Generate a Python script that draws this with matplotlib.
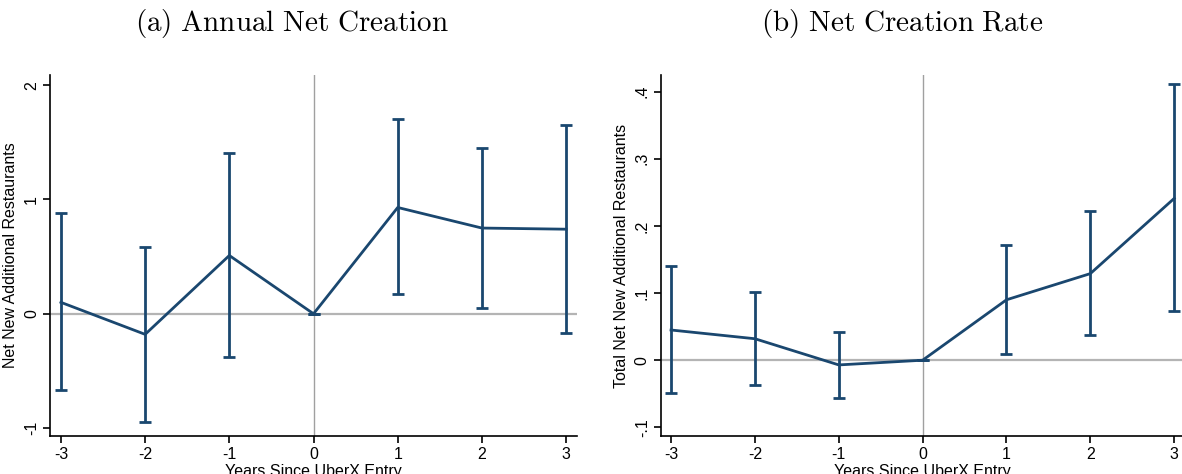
import numpy as np
import matplotlib
matplotlib.use("Agg")
import matplotlib.pyplot as plt

plt.rcParams['font.family'] = ['Liberation Sans', 'DejaVu Sans']
plt.rcParams['mathtext.fontset'] = 'cm'

years = [-3, -2, -1, 0, 1, 2, 3]

# (a) annual net creation
net_coef = [0.10, -0.18, 0.51, 0.0, 0.93, 0.75, 0.74]
net_hi = [0.88, 0.58, 1.41, 0.0, 1.70, 1.45, 1.65]
net_lo = [-0.67, -0.95, -0.38, 0.0, 0.17, 0.05, -0.17]

# (b) net creation rate
rate_coef = [0.045, 0.032, -0.007, 0.0, 0.090, 0.129, 0.241]
rate_hi = [0.141, 0.102, 0.042, 0.0, 0.171, 0.222, 0.411]
rate_lo = [-0.049, -0.037, -0.056, 0.0, 0.010, 0.037, 0.074]

net_ticks = [-1, 0, 1, 2]
net_ticklabels = ['-1', '0', '1', '2']
rate_ticks = [-0.1, 0.0, 0.1, 0.2, 0.3, 0.4]
rate_ticklabels = ['-.1', '0', '.1', '.2', '.3', '.4']

navy = '#1a476f'
refgray = '#b4b4b4'

fig = plt.figure(figsize=(11.82, 4.74), dpi=100)
ax1 = fig.add_axes([0.0423, 0.080, 0.4459, 0.762])
ax2 = fig.add_axes([0.5592, 0.080, 0.4420, 0.762])


def draw_panel(ax, coef, lo, hi, ticks, ticklabels, ylim, ylabel):
    x = np.array(years)
    coef = np.array(coef)
    lo = np.array(lo)
    hi = np.array(hi)
    ax.axhline(0, color=refgray, lw=1.6, zorder=1)
    ax.axvline(0, color='#a0a0a0', lw=1.0, zorder=1)
    ax.errorbar(x, coef, yerr=[coef - lo, hi - coef], color=navy, lw=2.0,
                elinewidth=2.0, capsize=4, capthick=2.0, zorder=3)
    ax.set_xlim(-3.13, 3.13)
    ax.set_ylim(*ylim)
    ax.set_xticks(years)
    ax.set_xticklabels([str(v) for v in years])
    ax.set_yticks(ticks)
    ax.set_yticklabels(ticklabels, rotation=90, va='center')
    for s in ['top', 'right']:
        ax.spines[s].set_visible(False)
    for s in ['left', 'bottom']:
        ax.spines[s].set_linewidth(1.2)
    ax.tick_params(labelsize=11.5, length=5, width=1.2, pad=3)
    ax.set_xlabel('Years Since UberX Entry', fontsize=11.5, labelpad=1)
    ax.set_ylabel(ylabel, fontsize=11.5, labelpad=4)


draw_panel(ax1, net_coef, net_lo, net_hi, net_ticks, net_ticklabels,
           (-1.07, 2.09), 'Net New Additional Restaurants')
draw_panel(ax2, rate_coef, rate_lo, rate_hi, rate_ticks, rate_ticklabels,
           (-0.113, 0.425), 'Total Net New Additional Restaurants')
ax2.set_xlim(-3.12, 3.11)

fig.text(0.247, 0.950, r'$\mathrm{(a)\ Annual\ Net\ Creation}$',
         ha='center', va='center', fontsize=21)
fig.text(0.763, 0.950, r'$\mathrm{(b)\ Net\ Creation\ Rate}$',
         ha='center', va='center', fontsize=21)

fig.savefig('out.png', dpi=100)
